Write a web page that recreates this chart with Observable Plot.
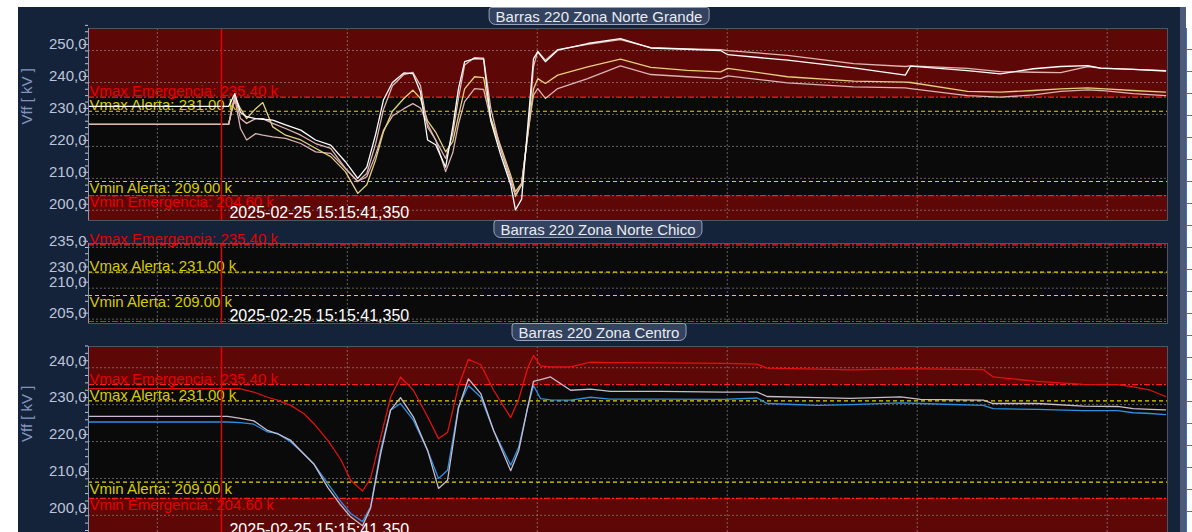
<!DOCTYPE html>
<html>
<head>
<meta charset="utf-8">
<script src="https://cdn.jsdelivr.net/npm/d3@7"></script>
<script src="https://cdn.jsdelivr.net/npm/@observablehq/plot@0.6"></script>
<style>
  html, body { margin: 0; padding: 0; width: 1192px; height: 532px; overflow: hidden; background: #ffffff; font-family: "Liberation Sans", Arial, sans-serif; }
  #screen { position: absolute; left: 18px; top: 7px; width: 1162px; height: 525px; background: #14223a; }
  #sidebar { position: absolute; left: 1180px; top: 7px; width: 6px; height: 525px; background: #4b5a7a; }
  #cells { position: absolute; left: 1186px; top: 28px; width: 6px; height: 504px; background: repeating-linear-gradient(to bottom, #ffffff 0 21px, #3c72c4 21px 22px); border-left: 1px solid #3c72c4; }
  .panel { position: absolute; left: 0; }
  .title { position: absolute; height: 18px; line-height: 17px; padding: 0 6px; box-sizing: border-box; transform: translateX(-50%);
           background: #33425e; border: 1px solid #98a4bc; border-radius: 3px 3px 7px 7px; color: #e9ecf3; font-size: 15px; white-space: nowrap; }
</style>
</head>
<body>
<div id="screen"></div>
<div id="sidebar"></div>
<div id="cells"></div>
<div id="charts"></div>
<script>
// ---- time window (seconds after 15:15:00) ----
const xDomain = [38.55, 61.27];
const gridTimes = [40, 44, 48, 52, 56, 60];
const cursorTime = 41.35;
const cursorStamp = "2025-02-25 15:15:41,350";

// ---- voltage limits [kV] ----
const limitNames = ["Vmax Emergencia", "Vmax Alerta", "Vmin Alerta", "Vmin Emergencia"];
const limitValues = [235.40, 231.00, 209.00, 204.60];
const limitKinds = ["max", "max", "min", "min"];
const limitLevels = ["emergencia", "alerta", "alerta", "emergencia"];

// ---- Barras 220 Zona Norte Grande ----
const tNorte = [
  38.55, 41.50, 41.63, 41.75, 41.88, 42.07, 42.22, 42.43, 42.70, 43.02,
  43.33, 43.65, 43.96, 44.22, 44.41, 44.60, 44.76, 44.95, 45.19, 45.38,
  45.54, 45.69, 45.86, 46.07, 46.22, 46.34, 46.47, 46.68, 46.87, 47.02,
  47.23, 47.44, 47.54, 47.67, 47.82, 47.92, 48.01, 48.17, 48.43, 49.06,
  49.75, 50.39, 51.16, 51.86, 52.01, 53.27, 54.66, 55.75, 55.86, 57.06,
  57.75, 58.45, 59.02, 59.59, 59.86, 60.55, 61.23
];
const norte1 = [
  232.5, 232.5, 236.5, 230.6, 229.3, 228.7, 228.5, 228.2, 226.7, 225.1,
  222.0, 220.4, 215.2, 210.0, 213.5, 224.0, 234.5, 240.0, 243.0, 242.8,
  237.0, 222.0, 220.5, 213.5, 226.0, 238.0, 246.5, 247.5, 247.3, 228.0,
  217.3, 208.0, 200.1, 203.5, 230.0, 247.5, 249.6, 246.5, 250.1, 252.2,
  253.7, 250.8, 250.4, 250.0, 248.7, 247.0, 244.6, 242.3, 245.1, 243.7,
  242.7, 244.3, 245.0, 245.3, 244.5, 244.1, 243.6
];
const norte2 = [
  226.9, 226.9, 236.0, 228.7, 227.2, 228.7, 228.7, 227.2, 225.6, 223.5,
  220.9, 219.4, 213.1, 209.0, 211.5, 221.0, 231.5, 239.0, 242.5, 243.2,
  239.0, 226.0, 222.0, 216.2, 224.0, 235.0, 245.5, 247.8, 247.6, 232.0,
  219.0, 210.0, 204.3, 208.0, 227.0, 245.0, 249.8, 247.0, 250.3, 251.9,
  253.4, 250.9, 250.5, 250.3, 250.0, 248.5, 245.9, 245.0, 245.2, 244.4,
  243.4, 243.2, 243.1, 245.0, 244.5, 244.1, 243.7
];
const norte3 = [
  226.9, 226.9, 235.5, 231.8, 228.7, 231.8, 233.7, 226.1, 223.5, 222.0,
  219.4, 216.8, 212.1, 205.3, 208.0, 216.0, 224.5, 231.0, 235.0, 237.6,
  235.0, 228.0, 224.5, 218.3, 221.5, 229.5, 238.0, 241.8, 241.5, 229.0,
  220.0, 211.0, 205.8, 208.5, 226.0, 238.0, 241.2, 239.7, 242.3, 244.9,
  247.3, 244.7, 243.8, 243.3, 244.4, 241.8, 240.4, 240.1, 240.0, 237.2,
  237.0, 237.5, 238.0, 238.3, 238.1, 237.5, 237.0
];
const norte4 = [
  226.9, 226.9, 235.0, 225.6, 222.0, 224.0, 223.5, 223.0, 222.5, 220.9,
  218.3, 217.8, 213.1, 209.0, 210.5, 217.5, 225.0, 229.5, 231.8, 233.4,
  232.0, 227.0, 222.0, 212.1, 218.0, 227.0, 234.0, 238.1, 237.8, 228.5,
  219.0, 209.0, 204.8, 208.0, 226.0, 236.0, 238.1, 235.0, 238.1, 241.2,
  245.2, 242.5, 241.8, 241.2, 242.1, 239.9, 238.6, 238.3, 238.1, 235.9,
  235.4, 236.1, 237.2, 237.7, 237.5, 236.5, 235.9
];

// ---- Barras 220 Zona Centro ----
const tCentro = [
  38.55, 41.48, 41.75, 42.03, 42.32, 42.53, 42.81, 43.08, 43.29, 43.59,
  43.86, 44.07, 44.32, 44.49, 44.70, 44.91, 45.12, 45.39, 45.69, 45.92,
  46.11, 46.34, 46.55, 46.81, 47.08, 47.44, 47.61, 47.80, 47.92, 48.07,
  48.28, 48.70, 49.12, 49.54, 50.60, 51.92, 52.63, 52.84, 53.90, 54.59,
  55.65, 56.07, 57.39, 57.60, 58.53, 59.50, 60.22, 60.55, 60.91, 61.23
];
const centroRojo = [
  234.3, 234.3, 234.3, 233.4, 232.0, 231.2, 229.8, 227.6, 224.9, 220.3,
  215.2, 209.5, 206.6, 210.0, 221.0, 232.0, 237.5, 233.9, 226.7, 220.8,
  222.5, 235.0, 242.3, 240.8, 233.9, 226.5, 231.5, 240.0, 243.3, 240.5,
  240.2, 240.2, 241.5, 241.4, 241.3, 241.2, 241.0, 239.9, 239.6, 239.4,
  239.7, 239.7, 239.5, 237.5, 236.3, 235.5, 235.4, 234.8, 233.9, 232.2
];
const centroGris = [
  226.8, 226.8, 226.3, 225.6, 223.0, 222.1, 220.3, 216.7, 214.0, 207.5,
  202.8, 199.6, 197.2, 202.0, 216.5, 228.5, 231.9, 226.7, 217.6, 207.3,
  209.5, 229.0, 237.0, 233.0, 223.0, 212.1, 217.6, 229.4, 236.3, 236.8,
  237.5, 233.9, 234.2, 233.6, 233.6, 233.4, 233.4, 232.2, 231.9, 231.7,
  232.1, 231.4, 231.2, 230.3, 230.3, 229.6, 229.5, 228.9, 228.7, 228.6
];
const centroAzul = [
  225.3, 225.3, 225.1, 224.7, 222.6, 222.2, 219.9, 216.7, 214.0, 208.6,
  203.8, 200.5, 198.3, 202.3, 217.6, 228.5, 230.3, 225.8, 217.6, 210.0,
  212.2, 229.4, 235.2, 232.0, 223.0, 213.6, 218.5, 229.4, 235.2, 231.6,
  231.3, 231.2, 232.0, 231.5, 231.5, 231.4, 231.8, 230.3, 229.8, 230.0,
  230.5, 230.3, 229.8, 228.9, 228.7, 228.4, 228.4, 227.8, 227.6, 227.3
];

// ---- styling ----
const BAND = "#5e0707", PLOT_BG = "#0a0a0a";
const LIMIT_STROKE = {emergencia: "#ff1c1c", alerta: "#e6d300"};
const LIMIT_TEXT = {emergencia: "#e60000", alerta: "#d8ca00"};
const LIMIT_DASH = {emergencia: "6,2,2,2", alerta: "4,3"};
const AXIS = "#bcc5da";
const fmtTick = d => d.toFixed(1).replace(".", ",");
const limits = limitNames.map((name, i) => ({
  name, value: limitValues[i], kind: limitKinds[i], level: limitLevels[i],
  text: `${name}: ${limitValues[i].toFixed(2)} k`
}));

function minorTicks(lo, hi, majors) {
  return d3.range(Math.ceil(lo / 2) * 2, hi, 2).filter(v => !majors.includes(v));
}

function drawPanel(cfg) {
  const [lo, hi] = [d3.min(cfg.y.domain), d3.max(cfg.y.domain)];
  const bands = [];
  if (hi > limitValues[0]) bands.push({y1: limitValues[0], y2: hi});
  if (lo < limitValues[3]) bands.push({y1: lo, y2: limitValues[3]});
  const labelled = limits.filter(l => cfg.labels.includes(l.name));
  const grid = {stroke: "#9a9a9a", strokeOpacity: 0.6, strokeDasharray: "2,2"};

  const marks = [
    Plot.frame({fill: PLOT_BG}),
    Plot.rect(bands, {y1: "y1", y2: "y2", fill: BAND}),
    Plot.ruleY(cfg.majors, grid),
    Plot.ruleX(gridTimes, grid),
    // limit lines: dash-dot for emergency, dashed for alert
    ...["emergencia", "alerta"].map(level =>
      Plot.ruleY(limits.filter(l => l.level === level), {y: "value", stroke: LIMIT_STROKE[level], strokeDasharray: LIMIT_DASH[level], strokeWidth: 1.2})),
    Plot.text(labelled.filter(l => l.kind === "max"), {y: "value", text: "text", frameAnchor: "left", textAnchor: "start", lineAnchor: "bottom", dx: 1, dy: -1, fill: d => LIMIT_TEXT[d.level], fontSize: 15}),
    Plot.text(labelled.filter(l => l.kind === "min"), {y: "value", text: "text", frameAnchor: "left", textAnchor: "start", lineAnchor: "top", dx: 1, dy: 1, fill: d => LIMIT_TEXT[d.level], fontSize: 15}),
    ...cfg.series.map(s => Plot.lineY(s.values, {x: cfg.times, stroke: s.color, strokeWidth: 1.3})),
    Plot.ruleX([cursorTime], {stroke: "#e60000", strokeWidth: 1.5}),
    Plot.text([cursorStamp], {x: cursorTime, frameAnchor: "bottom", textAnchor: "start", lineAnchor: "bottom", dx: 8, dy: -3, fill: "#ffffff", fontSize: 16}),
    Plot.frame({stroke: "#4c5466"}),
    Plot.ruleX([xDomain[0]], {stroke: "#8896b2"}),
    Plot.axisY(cfg.majors, {anchor: "left", tickSize: 5, tickPadding: -3, tickFormat: fmtTick, color: AXIS, fontSize: 15, dy: cfg.labelDy, label: null}),
    Plot.axisY(cfg.minors, {anchor: "left", tickSize: 3, tickFormat: () => "", color: AXIS, dy: cfg.labelDy, label: null})
  ];
  if (cfg.yLabel) {
    marks.push(Plot.text([cfg.yLabel], {frameAnchor: "left", rotate: -90, dx: -61, fill: "#8195ba", fontSize: 15}));
  }

  const svg = Plot.plot({
    width: 1192,
    height: cfg.height,
    marginLeft: 88,
    marginRight: 25,
    marginTop: cfg.marginTop,
    marginBottom: cfg.marginBottom,
    style: {background: "transparent", fontFamily: "Liberation Sans, Arial, sans-serif", overflow: "visible"},
    x: {domain: xDomain, axis: null},
    y: {...cfg.y, axis: null},
    marks
  });
  const wrap = document.createElement("div");
  wrap.className = "panel";
  wrap.style.top = cfg.top + "px";
  wrap.appendChild(svg);
  document.getElementById("charts").appendChild(wrap);

  const title = document.createElement("div");
  title.className = "title";
  title.textContent = cfg.title;
  title.style.left = cfg.titleX + "px";
  title.style.top = cfg.titleY + "px";
  document.body.appendChild(title);
}

const majorsNorte = [200, 210, 220, 230, 240, 250];
drawPanel({
  title: "Barras 220 Zona Norte Grande", titleX: 599, titleY: 7,
  top: 0, height: 222, marginTop: 28, marginBottom: 2,
  y: {domain: [196.8, 256.9]},
  majors: majorsNorte, minors: minorTicks(196.8, 256.9, majorsNorte), labelDy: -6,
  labels: limitNames, yLabel: "Vff [ kV ]",
  times: tNorte,
  series: [
    {values: norte4, color: "#d9b3b3"},
    {values: norte3, color: "#e4d07a"},
    {values: norte2, color: "#e2b6b0"},
    {values: norte1, color: "#ffffff"}
  ]
});

// the Norte Chico bar display uses an uneven voltage scale between its limits
const majorsChico = [205, 210, 230, 235];
drawPanel({
  title: "Barras 220 Zona Norte Chico", titleX: 598, titleY: 220,
  top: 222, height: 101, marginTop: 21, marginBottom: 0,
  y: {type: "linear", domain: [204.6, 209, 210, 231, 235.4], range: [99, 73, 65.7, 49.7, 22.3]},
  majors: majorsChico, minors: [207, 208, 232, 233, 234], labelDy: -6,
  labels: ["Vmax Emergencia", "Vmax Alerta", "Vmin Alerta"], yLabel: null,
  times: [], series: []
});

const majorsCentro = [200, 210, 220, 230, 240];
drawPanel({
  title: "Barras 220 Zona Centro", titleX: 599, titleY: 323,
  top: 325, height: 215, marginTop: 21, marginBottom: 3,
  y: {domain: [194.0, 245.75]},
  majors: majorsCentro, minors: minorTicks(194, 245.75, majorsCentro), labelDy: -7,
  labels: limitNames, yLabel: "Vff [ kV ]",
  times: tCentro,
  series: [
    {values: centroAzul, color: "#2f8fe2"},
    {values: centroGris, color: "#cbbccd"},
    {values: centroRojo, color: "#e3100f"}
  ]
});
</script>
</body>
</html>
